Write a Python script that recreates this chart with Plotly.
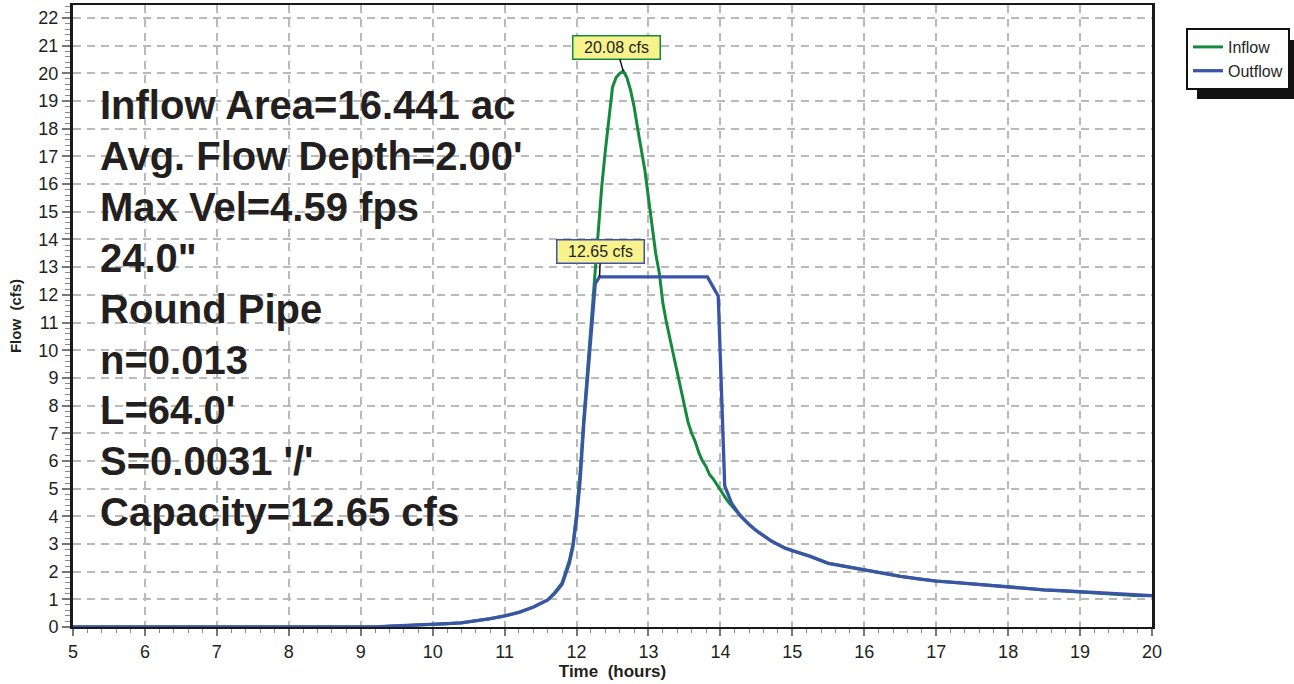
import plotly.graph_objects as go

# ---------------- data ----------------
inflow_time = [5.0, 9.2, 9.4, 9.6, 10.0, 10.2, 10.4, 10.6, 10.8, 11.0, 11.2, 11.4, 11.6, 11.7,
               11.8, 11.9, 11.95, 12.0, 12.05, 12.1, 12.15, 12.2, 12.25, 12.3, 12.35, 12.4,
               12.45, 12.5, 12.55, 12.6, 12.65, 12.7, 12.75, 12.8, 12.85, 12.9, 12.95, 13.0,
               13.05, 13.1, 13.15, 13.2, 13.25, 13.3, 13.35, 13.4, 13.45, 13.5, 13.55, 13.6,
               13.65, 13.7, 13.75, 13.8, 13.85, 13.9, 13.95, 14.0, 14.05, 14.1, 14.15, 14.2,
               14.3, 14.4, 14.5, 14.6, 14.7, 14.8, 14.9, 15.0, 15.25, 15.5, 15.75, 16.0,
               16.25, 16.5, 16.75, 17.0, 17.25, 17.5, 17.75, 18.0, 18.25, 18.5, 18.75, 19.0,
               19.25, 19.5, 19.75, 20.0]
inflow_cfs = [0.0, 0.0, 0.03, 0.05, 0.08, 0.12, 0.15, 0.22, 0.3, 0.4, 0.53, 0.72, 0.98, 1.25,
              1.6, 2.4, 3.0, 4.1, 5.6, 7.5, 9.2, 10.9, 12.5, 14.3, 15.9, 17.2,
              18.3, 19.5, 19.85, 20.0, 20.08, 19.85, 19.4, 18.8, 18.0, 17.3, 16.5, 15.5,
              14.5, 13.5, 12.8, 11.7, 11.0, 10.4, 9.8, 9.2, 8.6, 7.9, 7.4, 7.0,
              6.7, 6.3, 6.0, 5.8, 5.5, 5.35, 5.15, 4.95, 4.75, 4.55, 4.4, 4.25,
              3.95, 3.7, 3.48, 3.3, 3.12, 2.98, 2.85, 2.76, 2.55, 2.3, 2.18, 2.05,
              1.95, 1.83, 1.74, 1.66, 1.61, 1.55, 1.5, 1.45, 1.4, 1.34, 1.31, 1.27,
              1.24, 1.2, 1.14, 1.13]

outflow_time = [5.0, 9.2, 9.4, 9.6, 10.0, 10.2, 10.4, 10.6, 10.8, 11.0, 11.2, 11.4, 11.6, 11.7,
                11.8, 11.9, 11.95, 12.0, 12.05, 12.1, 12.15, 12.2, 12.26, 12.32, 13.82, 13.97,
                14.06, 14.16, 14.27, 14.4, 14.5, 14.6, 14.7, 14.8, 14.9, 15.0, 15.25, 15.5,
                15.75, 16.0, 16.25, 16.5, 16.75, 17.0, 17.25, 17.5, 17.75, 18.0, 18.25, 18.5,
                18.75, 19.0, 19.25, 19.5, 19.75, 20.0]
outflow_cfs = [0.0, 0.0, 0.03, 0.05, 0.08, 0.12, 0.15, 0.22, 0.3, 0.4, 0.53, 0.72, 0.98, 1.22,
               1.55, 2.3, 2.9, 3.9, 5.3, 7.3, 8.8, 10.3, 12.4, 12.65, 12.65, 11.95,
               5.1, 4.45, 4.05, 3.7, 3.48, 3.3, 3.12, 2.98, 2.85, 2.76, 2.55, 2.3,
               2.18, 2.05, 1.95, 1.83, 1.74, 1.66, 1.61, 1.55, 1.5, 1.45, 1.4, 1.34,
               1.31, 1.27, 1.24, 1.2, 1.14, 1.13]

series_names = ["Inflow", "Outflow"]
series_colors = ["#138a3e", "#3a55a8"]

peak_labels = ["20.08 cfs", "12.65 cfs"]
peak_x = [12.65, 12.32]
peak_y = [20.08, 12.65]

info_lines = ["Inflow Area=16.441 ac", "Avg. Flow Depth=2.00'", "Max Vel=4.59 fps",
              "24.0\"", "Round Pipe", "n=0.013", "L=64.0'", "S=0.0031 '/'",
              "Capacity=12.65 cfs"]

# ---------------- figure ----------------
W, H = 1294, 684
ML, MR, MT, MB = 73, 142, 5, 57
PW, PH = W - ML - MR, H - MT - MB
FONT = "Liberation Sans, Arial, sans-serif"
TXT = "#231f20"

fig = go.Figure()
fig.add_trace(go.Scatter(x=inflow_time, y=inflow_cfs, mode="lines", name=series_names[0],
                         line=dict(color=series_colors[0], width=3)))
fig.add_trace(go.Scatter(x=outflow_time, y=outflow_cfs, mode="lines", name=series_names[1],
                         line=dict(color=series_colors[1], width=3.3)))

grid = dict(showgrid=True, gridcolor="#b9b9b9", gridwidth=1.5, griddash="8px,6px",
            showline=True, linecolor="#1a1a1a", mirror=True, zeroline=False,
            automargin=False,
            ticks="outside", tickwidth=1.5, tickcolor="#777777",
            tickfont=dict(family=FONT, size=18, color=TXT),
            minor=dict(ticks="outside", tickwidth=1.2, tickcolor="#888888",
                       showgrid=False))

fig.update_xaxes(range=[5, 20], dtick=1, tick0=5, linewidth=2.2, ticklen=7,
                 title=dict(text="Time\u00a0 (hours)", standoff=0,
                            font=dict(family=FONT, size=17, color=TXT, weight="bold")),
                 **grid)
fig.update_xaxes(minor_dtick=0.2, minor_ticklen=4)
fig.update_yaxes(range=[0, 22.47], dtick=1, tick0=0, linewidth=3, ticklen=8,
                 title=dict(text="Flow\u00a0 (cfs)", standoff=14,
                            font=dict(family=FONT, size=15, color=TXT, weight="bold")),
                 **grid)
fig.update_yaxes(minor_dtick=0.2, minor_ticklen=5)

# info text block
line_px0, line_step = 105, 50.9
for i, t in enumerate(info_lines):
    py = line_px0 + i * line_step
    fig.add_annotation(text=t, xref="paper", yref="paper",
                       x=(98 - ML) / PW, y=1 - (py - MT) / PH,
                       xanchor="left", yanchor="middle", showarrow=False,
                       font=dict(family=FONT, size=40, color=TXT, weight="bold"))

# peak labels
offsets = [(-7, -24), (1, -25)]
for lab, px, pyv, col, (ax, ay) in zip(peak_labels, peak_x, peak_y, series_colors, offsets):
    fig.add_annotation(x=px, y=pyv, text=lab, showarrow=True, arrowhead=0, arrowwidth=1.5,
                       arrowcolor="#111111", ax=ax, ay=ay, width=82, height=18,
                       bgcolor="#f7f28c", bordercolor=col, borderwidth=1.5, borderpad=2,
                       font=dict(family=FONT, size=16, color=TXT))

# legend shadow
fig.add_shape(type="rect", xref="paper", yref="paper",
              x0=(1197 - ML) / PW, x1=(1294 - ML) / PW,
              y0=1 - (99 - MT) / PH, y1=1 - (40 - MT) / PH,
              fillcolor="#111111", line=dict(width=0), layer="above")

fig.update_layout(
    width=W, height=H,
    margin=dict(l=ML, r=MR, t=MT, b=MB, autoexpand=False),
    paper_bgcolor="white", plot_bgcolor="white",
    showlegend=True,
    legend=dict(x=(1290 - ML) / PW, y=1 - (28 - MT) / PH, xanchor="right", yanchor="top",
                bgcolor="white", bordercolor="#111111", borderwidth=2,
                font=dict(family=FONT, size=16, color=TXT),
                itemwidth=30, tracegroupgap=0),
)

fig.write_html("out.html", config={"displayModeBar": False},
               post_script="document.body.style.margin='0';document.body.style.padding='0';")
